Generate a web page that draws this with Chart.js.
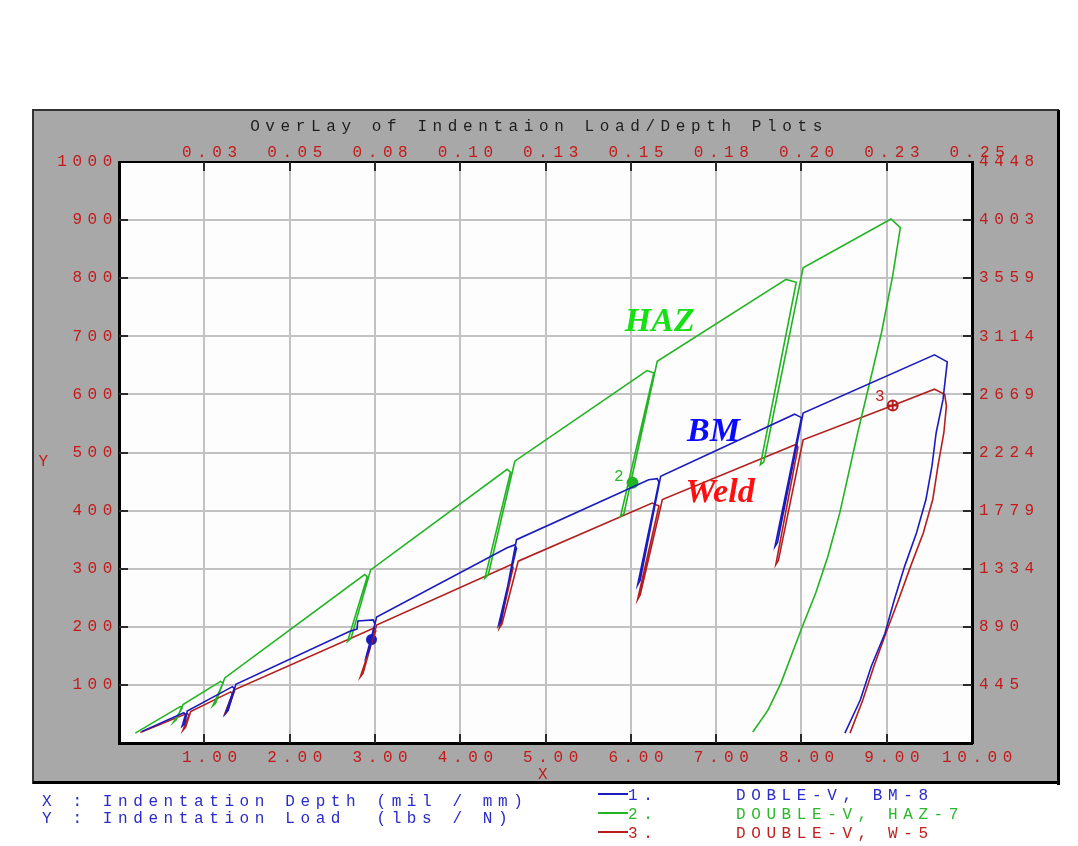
<!DOCTYPE html>
<html>
<head>
<meta charset="utf-8">
<script src="https://cdn.jsdelivr.net/npm/chart.js@4.4.0/dist/chart.umd.min.js"></script>
<style>
  html, body { margin: 0; padding: 0; background: #fff; }
  #wrap { width: 1078px; height: 846px; }
</style>
</head>
<body>
<div id="wrap"><canvas id="plot"></canvas></div>
<script>
// tick labels (mil / mm, lbs / N)
const bottomLabels = ['1.00', '2.00', '3.00', '4.00', '5.00', '6.00', '7.00', '8.00', '9.00', '10.00'];
const topLabels = ['0.03', '0.05', '0.08', '0.10', '0.13', '0.15', '0.18', '0.20', '0.23', '0.25'];
const leftLabels = ['100', '200', '300', '400', '500', '600', '700', '800', '900', '1000'];
const rightLabels = ['445', '890', '1334', '1779', '2224', '2669', '3114', '3559', '4003', '4448'];

const seriesNames = ['DOBLE-V, BM-8', 'DOUBLE-V, HAZ-7', 'DOUBLE-V, W-5'];

// BM-8
const bmDepth = [0.27, 0.76, 0.78, 0.74, 0.77, 0.80, 1.33, 1.35, 1.25, 1.28, 1.37, 2.70, 2.79, 2.80, 2.98, 3.00, 2.90, 2.93, 3.02,
  4.55, 4.64, 4.66, 4.45, 4.48, 4.66, 6.21, 6.31, 6.33, 6.08, 6.11, 6.35, 7.92, 8.00, 7.69, 7.72, 8.02,
  9.56, 9.71, 9.66, 9.58, 9.53, 9.46, 9.35, 9.21, 9.09, 8.98, 8.82, 8.69, 8.51];
const bmLoad = [20, 52, 49, 29, 33, 55, 97, 94, 51, 56, 101, 192, 196, 210, 212, 205, 150, 158, 217,
  336, 341, 335, 203, 210, 350, 453, 455, 449, 272, 280, 459, 566, 560, 338, 345, 568,
  668, 656, 591, 534, 476, 419, 362, 304, 247, 189, 132, 74, 17];

// HAZ-7
const hazDepth = [0.19, 0.72, 0.74, 0.64, 0.67, 0.75, 1.19, 1.22, 1.10, 1.13, 1.24, 2.88, 2.91, 2.68, 2.72, 2.95,
  4.55, 4.59, 4.29, 4.33, 4.64, 6.19, 6.27, 5.88, 5.92, 6.31, 7.82, 7.94, 7.52, 7.56, 8.02,
  9.05, 9.16, 9.07, 8.94, 8.81, 8.66, 8.45, 8.31, 8.17, 8.01, 7.76, 7.61, 7.43];
const hazLoad = [17, 63, 60, 36, 40, 66, 106, 103, 64, 68, 112, 290, 286, 175, 180, 298,
  471, 466, 284, 290, 485, 641, 637, 390, 395, 657, 798, 793, 479, 484, 818,
  902, 887, 804, 707, 626, 534, 396, 321, 259, 200, 103, 57, 19];

// W-5
const weldDepth = [0.25, 0.80, 0.82, 0.75, 0.78, 0.84, 1.31, 1.33, 1.24, 1.27, 1.36, 2.99, 3.01, 2.83, 2.86, 3.02,
  4.60, 4.62, 4.46, 4.49, 4.68, 6.25, 6.33, 6.08, 6.11, 6.37, 7.94, 7.96, 7.70, 7.73, 8.02,
  9.07, 9.56, 9.68, 9.70, 9.67, 9.60, 9.54, 9.43, 9.28, 9.14, 8.99, 8.85, 8.72, 8.57];
const weldLoad = [18, 51, 48, 22, 27, 54, 88, 85, 50, 55, 92, 198, 193, 114, 120, 203,
  307, 302, 198, 205, 313, 413, 408, 247, 255, 419, 514, 509, 307, 314, 522,
  581, 609, 600, 580, 534, 476, 419, 362, 304, 247, 189, 132, 74, 17];

// numbered markers 1..3
const markerDepth = [2.96, 6.02, 9.07];
const markerLoad = [178, 448, 581];

const colors = ['#1c1cbe', '#22b422', '#b41e1e'];
const textColors = ['#2a2ad0', '#2cb82c', '#c02020'];
const tickRed = '#c41a1a';
const MONO = '"Liberation Mono", "DejaVu Sans Mono", monospace';
const SPACING = '5.6px';

const notes = [
  { text: 'HAZ', depth: 5.93, load: 709, color: '#14e014' },
  { text: 'BM', depth: 6.66, load: 519, color: '#0a0aff' },
  { text: 'Weld', depth: 6.64, load: 414, color: '#ff1010' }
];

const toPoints = (xs, ys) => xs.map((x, i) => ({ x: x, y: ys[i] }));

const frame = {
  id: 'frame',
  beforeUpdate(chart) { chart.ctx.letterSpacing = SPACING; },
  beforeLayout(chart) { chart.ctx.letterSpacing = SPACING; },
  beforeDraw(chart) {
    const ctx = chart.ctx, a = chart.chartArea;
    ctx.letterSpacing = SPACING;
    ctx.save();
    ctx.fillStyle = '#ffffff';
    ctx.fillRect(0, 0, chart.width, chart.height);
    ctx.fillStyle = '#a8a8a8';
    ctx.fillRect(33, 110, 1025, 673);
    ctx.strokeStyle = '#333';
    ctx.lineWidth = 2;
    ctx.strokeRect(33, 110, 1025, 673);
    ctx.fillStyle = '#000';
    ctx.fillRect(1057, 110, 3, 675);
    ctx.fillRect(33, 781, 1027, 3);
    ctx.fillStyle = '#fdfdfd';
    ctx.fillRect(a.left, a.top, a.right - a.left, a.bottom - a.top);
    ctx.restore();
  },
  beforeDatasetsDraw(chart) {
    const ctx = chart.ctx, a = chart.chartArea;
    const xs = chart.scales.x, ys = chart.scales.y;
    ctx.save();
    ctx.strokeStyle = '#2a2a2a';
    ctx.lineWidth = 2;
    ctx.beginPath();
    xs.ticks.forEach(t => {
      if (t.value <= 0 || t.value >= 10) return;
      const px = Math.round(xs.getPixelForValue(t.value));
      ctx.moveTo(px, a.top); ctx.lineTo(px, a.top + 9);
      ctx.moveTo(px, a.bottom - 9); ctx.lineTo(px, a.bottom);
    });
    ys.ticks.forEach(t => {
      if (t.value <= 0 || t.value >= 1000) return;
      const py = Math.round(ys.getPixelForValue(t.value));
      ctx.moveTo(a.left, py); ctx.lineTo(a.left + 9, py);
      ctx.moveTo(a.right - 9, py); ctx.lineTo(a.right, py);
    });
    ctx.stroke();
    ctx.restore();
  },
  afterDraw(chart) {
    const ctx = chart.ctx;
    const xs = chart.scales.x, ys = chart.scales.y;
    ctx.save();
    // curve names
    ctx.letterSpacing = '0px';
    ctx.font = 'italic bold 34px "Liberation Serif", "DejaVu Serif", serif';
    ctx.textAlign = 'left';
    ctx.textBaseline = 'alphabetic';
    notes.forEach(n => {
      ctx.fillStyle = n.color;
      ctx.fillText(n.text, xs.getPixelForValue(n.depth), ys.getPixelForValue(n.load));
    });

    ctx.letterSpacing = SPACING;
    ctx.font = '16px ' + MONO;
    // marker numbers
    ctx.textAlign = 'center';
    ctx.textBaseline = 'middle';
    ctx.fillStyle = textColors[1];
    ctx.fillText('2', xs.getPixelForValue(markerDepth[1]) - 11, ys.getPixelForValue(markerLoad[1]) - 6);
    ctx.fillStyle = tickRed;
    ctx.fillText('3', xs.getPixelForValue(markerDepth[2]) - 10, ys.getPixelForValue(markerLoad[2]) - 9);
    // Y axis name
    ctx.fillText('Y', 46, 462);

    // legend block under the panel
    ctx.textAlign = 'left';
    ctx.textBaseline = 'alphabetic';
    ctx.fillStyle = '#2a2ac8';
    ctx.fillText('X : Indentation Depth (mil / mm)', 42, 806);
    ctx.fillText('Y : Indentation Load  (lbs / N)', 42, 823);
    seriesNames.forEach((name, i) => {
      const base = 800 + i * 19;
      ctx.strokeStyle = colors[i];
      ctx.lineWidth = 2;
      ctx.beginPath();
      ctx.moveTo(598, base - 6);
      ctx.lineTo(628, base - 6);
      ctx.stroke();
      ctx.fillStyle = textColors[i];
      ctx.fillText((i + 1) + '.', 628, base);
      ctx.fillText(name, 736, base);
    });
    ctx.restore();
  }
};

Chart.defaults.font.family = MONO;
Chart.defaults.font.size = 16;

const lineSet = (label, xs, ys, color) => ({
  label: label,
  data: toPoints(xs, ys),
  showLine: true,
  borderColor: color,
  backgroundColor: color,
  borderWidth: 1.6,
  pointRadius: 0,
  tension: 0
});

const markerSet = (i, style, radius, fill) => ({
  label: 'marker ' + (i + 1),
  data: [{ x: markerDepth[i], y: markerLoad[i] }],
  showLine: false,
  pointStyle: style,
  pointRadius: radius,
  borderWidth: 2,
  borderColor: colors[i],
  backgroundColor: fill ? colors[i] : 'rgba(0,0,0,0)'
});

const noGrid = { display: false, drawTicks: false };

new Chart(document.getElementById('plot'), {
  type: 'scatter',
  data: {
    datasets: [
      lineSet(seriesNames[0], bmDepth, bmLoad, colors[0]),
      lineSet(seriesNames[1], hazDepth, hazLoad, colors[1]),
      lineSet(seriesNames[2], weldDepth, weldLoad, colors[2]),
      markerSet(0, 'circle', 4.5, true),
      markerSet(1, 'circle', 5, true),
      markerSet(2, 'circle', 5, false),
      markerSet(2, 'cross', 5, false)
    ]
  },
  options: {
    responsive: true,
    maintainAspectRatio: false,
    animation: false,
    layout: { padding: 0 },
    plugins: {
      legend: { display: false },
      tooltip: { enabled: false },
      title: {
        display: true,
        text: 'OverLay of Indentaion Load/Depth Plots',
        color: '#1e1e1e',
        font: { family: MONO, size: 16, weight: 'normal', lineHeight: 1.2 },
        padding: { top: 117, bottom: 0 }
      }
    },
    scales: {
      x: {
        type: 'linear', position: 'bottom', min: 0, max: 10,
        afterFit: s => { s.height = 103; },
        grid: { color: '#c2c2c2', lineWidth: 2, drawTicks: false },
        border: { color: '#000', width: 3 },
        ticks: {
          stepSize: 1, autoSkip: false, maxRotation: 0, color: tickRed, padding: 5, labelOffset: 8,
          callback: v => v > 0 ? bottomLabels[Math.round(v) - 1] : ''
        },
        title: { display: true, text: 'X', color: tickRed, padding: { top: 0, bottom: 62 } }
      },
      x2: {
        type: 'linear', position: 'top', min: 0, max: 10,
        afterFit: s => { s.height = 25.8; },
        grid: noGrid,
        border: { color: '#000', width: 2 },
        ticks: {
          stepSize: 1, autoSkip: false, maxRotation: 0, color: tickRed, padding: 0, labelOffset: 8,
          callback: v => v > 0 ? topLabels[Math.round(v) - 1] : ''
        }
      },
      y: {
        type: 'linear', position: 'left', min: 0, max: 1000,
        afterFit: s => { s.width = 119; },
        grid: { color: '#c2c2c2', lineWidth: 2, drawTicks: false },
        border: { color: '#000', width: 3 },
        ticks: {
          stepSize: 100, autoSkip: false, color: tickRed, padding: 1,
          callback: v => v > 0 ? leftLabels[Math.round(v / 100) - 1] : ''
        }
      },
      y2: {
        type: 'linear', position: 'right', min: 0, max: 1000,
        afterFit: s => { s.width = 106; },
        grid: noGrid,
        border: { color: '#000', width: 3 },
        ticks: {
          stepSize: 100, autoSkip: false, color: tickRed, padding: 7,
          callback: v => v > 0 ? rightLabels[Math.round(v / 100) - 1] : ''
        }
      }
    }
  },
  plugins: [frame]
});
</script>
</body>
</html>
